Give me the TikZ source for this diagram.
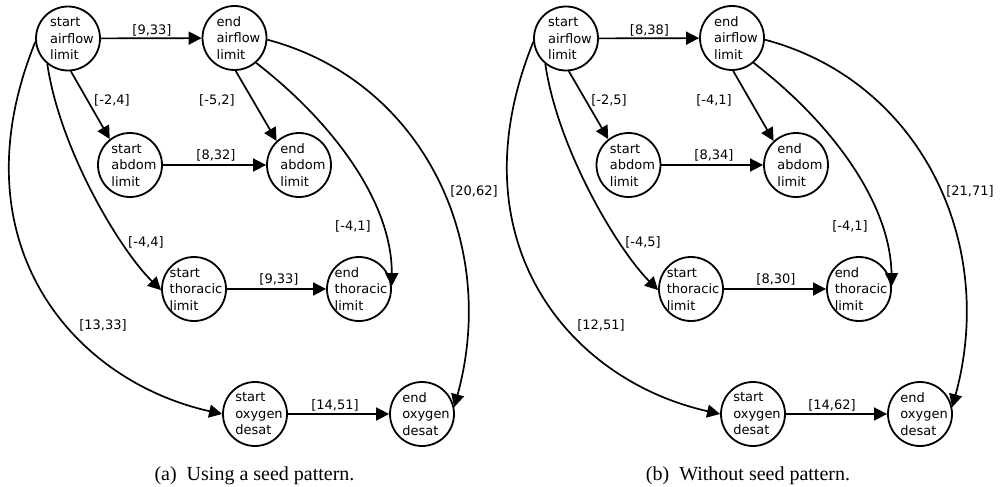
\documentclass[tikz,border=0pt]{standalone}
\usepackage{fontspec}
\newfontfamily\dv{DejaVu Sans}
\newfontfamily\capf{Liberation Serif}
\usetikzlibrary{arrows.meta}
\begin{document}
\begin{tikzpicture}[x=1pt,y=-1pt,
  st/.style={circle, draw, line width=1.8pt, minimum size=64pt, inner sep=0pt},
  tx/.style={font=\dv\fontsize{13}{16.5}\selectfont, align=left, inner sep=0pt},
  lb/.style={font=\dv\fontsize{13}{16}\selectfont, inner sep=0pt},
  ar/.style={-{Triangle[length=13pt,width=13pt]}, line width=1.7pt},
  captext/.style={font=\capf\fontsize{20}{24}\selectfont, inner sep=0pt}]
\useasboundingbox (0,0) rectangle (1002,487);
% ---------- panel (a)
\node[st, label={[tx, xshift=4pt]center:start\\airflow\\limit}] (a1) at (68,38.5) {};
\node[st, label={[tx, xshift=4pt]center:end\\airflow\\limit}] (a2) at (234.5,38) {};
\node[st, label={[tx, xshift=4pt]center:start\\abdom\\limit}] (a3) at (130,165) {};
\node[st, label={[tx, xshift=4pt]center:end\\abdom\\limit}] (a4) at (299,165) {};
\node[st, label={[tx, xshift=2pt]center:start\\thoracic\\limit}] (a5) at (194,289) {};
\node[st, label={[tx, xshift=2pt]center:end\\thoracic\\limit}] (a6) at (359,289) {};
\node[st, label={[tx, xshift=4pt]center:start\\oxygen\\desat}] (a7) at (255,414) {};
\node[st, label={[tx, xshift=4pt]center:end\\oxygen\\desat}] (a8) at (422,414) {};
\draw[ar] (a1) -- (a2);
\draw[ar] (a1.-85) -- (a3.128);
\draw[ar] (a2.-88) -- (a4.133);
\draw[ar] (a3) -- (a4);
\draw[ar] (a1.231) .. controls (60,150) and (120,250) .. (a5.182);
\draw[ar] (a1.186) .. controls (-45,240) and (70,380) .. (a7.180);
\draw[ar] (a2.-49) .. controls (330,120) and (392,200) .. (a6.5);
\draw[ar] (a2.-3) .. controls (420,80) and (500,240) .. (a8.12);
\draw[ar] (a5) -- (a6);
\draw[ar] (a7) -- (a8);
\node[lb] (la1) at (152,30) {[9,33]};
\node[lb] (la2) at (112,100) {[-2,4]};
\node[lb] (la3) at (217,100) {[-5,2]};
\node[lb] (la4) at (216,155) {[8,32]};
\node[lb] (la5) at (474,191) {[20,62]};
\node[lb] (la6) at (353,226) {[-4,1]};
\node[lb] (la7) at (146,242) {[-4,4]};
\node[lb] (la8) at (279,279) {[9,33]};
\node[lb] (la9) at (103,325) {[13,33]};
\node[lb] (la10) at (335,405) {[14,51]};
\node[captext] (capa) at (254.5,475.5) {(a)~~Using a seed pattern.};
% ---------- panel (b)
\node[st, label={[tx, xshift=4pt]center:start\\airflow\\limit}] (b1) at (566,38.5) {};
\node[st, label={[tx, xshift=4pt]center:end\\airflow\\limit}] (b2) at (732,38) {};
\node[st, label={[tx, xshift=4pt]center:start\\abdom\\limit}] (b3) at (628.5,165) {};
\node[st, label={[tx, xshift=4pt]center:end\\abdom\\limit}] (b4) at (796,165) {};
\node[st, label={[tx, xshift=2pt]center:start\\thoracic\\limit}] (b5) at (691,289) {};
\node[st, label={[tx, xshift=2pt]center:end\\thoracic\\limit}] (b6) at (859,289) {};
\node[st, label={[tx, xshift=4pt]center:start\\oxygen\\desat}] (b7) at (753,414) {};
\node[st, label={[tx, xshift=4pt]center:end\\oxygen\\desat}] (b8) at (920,414) {};
\draw[ar] (b1) -- (b2);
\draw[ar] (b1.-85) -- (b3.128);
\draw[ar] (b2.-88) -- (b4.133);
\draw[ar] (b3) -- (b4);
\draw[ar] (b1.231) .. controls (558,150) and (618,250) .. (b5.182);
\draw[ar] (b1.186) .. controls (453,240) and (568,380) .. (b7.180);
\draw[ar] (b2.-49) .. controls (828,120) and (890,200) .. (b6.5);
\draw[ar] (b2.-3) .. controls (918,80) and (998,240) .. (b8.12);
\draw[ar] (b5) -- (b6);
\draw[ar] (b7) -- (b8);
\node[lb] (lb1) at (649.5,30) {[8,38]};
\node[lb] (lb2) at (609,100) {[-2,5]};
\node[lb] (lb3) at (714,100) {[-4,1]};
\node[lb] (lb4) at (714,155) {[8,34]};
\node[lb] (lb5) at (970,191) {[21,71]};
\node[lb] (lb6) at (850,226) {[-4,1]};
\node[lb] (lb7) at (643,242) {[-4,5]};
\node[lb] (lb8) at (776,279) {[8,30]};
\node[lb] (lb9) at (601,325) {[12,51]};
\node[lb] (lb10) at (832,405) {[14,62]};
\node[captext] (capb) at (748,475.5) {(b)~~Without seed pattern.};
\end{tikzpicture}
\end{document}
